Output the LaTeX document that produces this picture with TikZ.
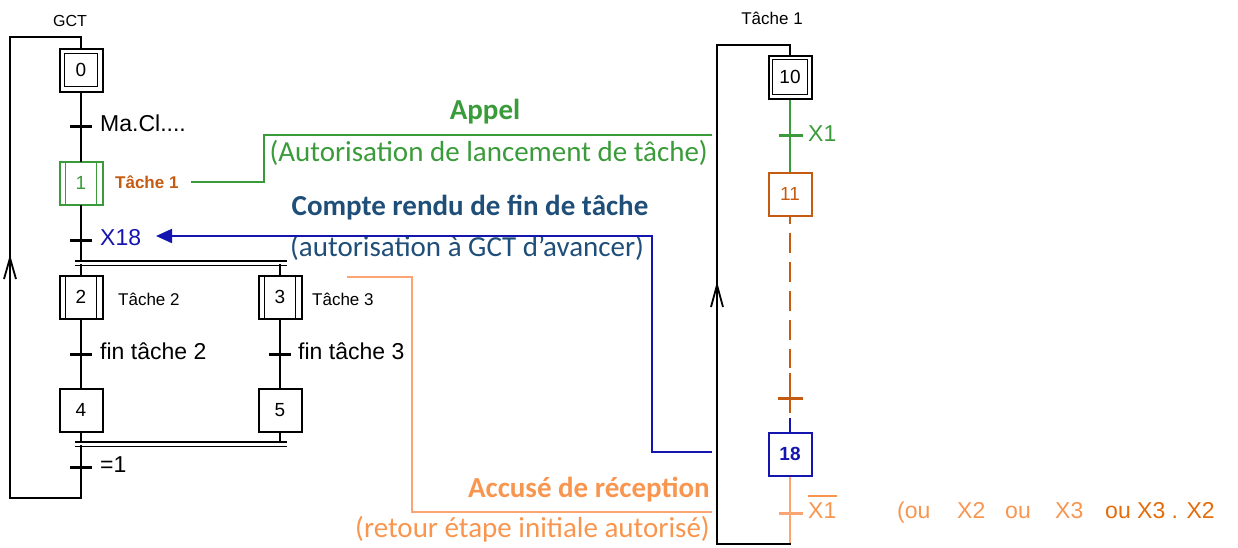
\documentclass[tikz,border=0pt]{standalone}
\usepackage{fontspec}
\setmainfont{Liberation Sans}
\newfontfamily\calfont{Carlito}
\usetikzlibrary{arrows.meta}
\definecolor{gr}{RGB}{58,155,58}
\definecolor{torange}{RGB}{197,90,17}
\definecolor{lorange}{RGB}{248,150,80}
\definecolor{lline}{RGB}{250,165,115}
\definecolor{dorange}{RGB}{228,108,10}
\definecolor{bl}{RGB}{20,20,175}
\definecolor{cr}{RGB}{31,78,121}
\begin{document}
\begin{tikzpicture}[x=1pt,y=-1pt,
  ln/.style={line width=2pt, line cap=rect},
  tick/.style={line width=3pt},
  stepbox/.style={draw, line width=2pt, minimum width=43pt, minimum height=43pt, inner sep=0pt, font=\fontsize{19}{19}\selectfont},
  inner/.style={line width=1.8pt},
  lbl/.style={anchor=base west, inner sep=0pt, font=\fontsize{23}{27}\selectfont},
  small/.style={anchor=base west, inner sep=0pt, font=\fontsize{17}{20}\selectfont},
  ann/.style={inner sep=0pt, font=\calfont\fontsize{29}{34}\selectfont},
  annb/.style={inner sep=0pt, font=\calfont\bfseries\fontsize{29}{34}\selectfont}]
\useasboundingbox (0,0) rectangle (1238,547);

% ===== GCT =====
\node[anchor=base, inner sep=0pt, font=\fontsize{16}{18}\selectfont] (gct) at (70,26) {GCT};
\node[stepbox] (s0) at (81,70) {0};
\draw[inner] ([xshift=6pt,yshift=-6pt]s0.north west) rectangle ([xshift=-6pt,yshift=6pt]s0.south east);
\node[stepbox, draw=gr, text=gr] (s1) at (81,183) {1};
\draw[inner, gr] ([xshift=7pt]s1.north west) -- ([xshift=7pt]s1.south west)
  ([xshift=-7pt]s1.north east) -- ([xshift=-7pt]s1.south east);
\node[stepbox] (s2) at (81,297) {2};
\draw[inner] ([xshift=7pt]s2.north west) -- ([xshift=7pt]s2.south west)
  ([xshift=-7pt]s2.north east) -- ([xshift=-7pt]s2.south east);
\node[stepbox] (s3) at (280,297) {3};
\draw[inner] ([xshift=7pt]s3.north west) -- ([xshift=7pt]s3.south west)
  ([xshift=-7pt]s3.north east) -- ([xshift=-7pt]s3.south east);
\node[stepbox] (s4) at (81,410) {4};
\node[stepbox] (s5) at (280,410) {5};

\coordinate (b1a) at (81,261);
\coordinate (b1b) at (81,265);
\coordinate (b1c) at (280,265);
\coordinate (b2a) at (81,442);
\coordinate (b2c) at (280,442);
\coordinate (b2b) at (81,446);
\coordinate (lb) at (81,498);
\coordinate (lt) at (81,37);

\draw[ln] (s0) -- (s1);
\draw[ln] (s1.south) -- (b1a);
\draw[line width=1.5pt] (75,261) -- (287,261) (75,265.5) -- (287,265.5);
\draw[ln] (b1b) -- (s2.north);
\draw[ln] (b1c) -- (s3.north);
\draw[ln] (s2) -- (s4);
\draw[ln] (s3) -- (s5);
\draw[ln] (s4.south) -- (b2a);
\draw[ln] (s5.south) -- (b2c);
\draw[line width=1.5pt] (75,442) -- (287,442) (75,446.5) -- (287,446.5);
\draw[ln] (b2b) -- (lb) -- (10,498) -- (10,37) -- (lt) -- (s0.north);
\draw[line width=1.8pt] (4,279) -- (10,258) -- (16,279);

% transitions
\draw[tick] (70,126) -- (92,126);
\draw[tick] (70,240) -- (92,240);
\draw[tick] (70,354) -- (92,354);
\draw[tick] (269,354) -- (291,354);
\draw[tick] (70,467) -- (92,467);

\node[lbl] (tma) at (100,131) {Ma.Cl....};
\node[lbl, text=bl] (tx18) at (100,245) {X18};
\node[lbl] (tf2) at (100,359) {fin tâche 2};
\node[lbl] (tf3) at (298,359) {fin tâche 3};
\node[lbl] (teq) at (100,472) {=1};
\node[anchor=base west, inner sep=0pt, text=torange, font=\bfseries\fontsize{17}{20}\selectfont] (lt1) at (115,188) {Tâche 1};
\node[small] (lt2) at (118,305) {Tâche 2};
\node[small] (lt3) at (312,305) {Tâche 3};

% ===== Tâche 1 =====
\node[anchor=base, inner sep=0pt, font=\fontsize{17}{20}\selectfont] (tt1) at (772,24) {Tâche 1};
\node[stepbox] (s10) at (790,77) {10};
\draw[inner] ([xshift=5pt,yshift=-5pt]s10.north west) rectangle ([xshift=-5pt,yshift=5pt]s10.south east);
\node[stepbox, draw=torange, text=torange] (s11) at (790,194) {11};
\node[stepbox, draw=bl, text=bl, font=\bfseries\fontsize{19}{19}\selectfont] (s18) at (790,454) {18};

\coordinate (d1) at (790,368);
\coordinate (d2) at (790,373);
\coordinate (d3) at (790,413);
\coordinate (d4) at (790,418);
\coordinate (rb) at (790,544);
\coordinate (rt) at (790,45);

\draw[line width=2.4pt, gr] (s10.south) -- (s11.north);
\draw[tick, gr] (779,135) -- (803,135);
\node[lbl, text=gr] (tx1) at (808,141) {X1};
\draw[line width=2.6pt, torange, dash pattern=on 20pt off 9pt, dash phase=13pt] (s11.south) -- (d1);
\draw[line width=2.6pt, torange] (d2) -- (d3);
\draw[tick, torange] (778,398) -- (803,398);
\draw[line width=2.6pt, bl] (d4) -- (s18.north);
\draw[line width=2.4pt, lline] (s18.south) -- (rb);
\draw[tick, lline] (779,513) -- (803,513);
\node[lbl, text=lorange] (tnx1) at (808,518) {X1};
\draw[line width=1.8pt, lorange] ([yshift=6pt]tnx1.north west) -- ([yshift=6pt]tnx1.north east);
\draw[ln] (rb) -- (717,544) -- (717,45) -- (rt) -- (s10.north);
\draw[line width=1.8pt] (711,307) -- (717,285) -- (723,307);

\node[lbl, text=lorange] (o1) at (897,518) {(ou};
\node[lbl, text=lorange] (o2) at (957,518) {X2};
\node[lbl, text=lorange] (o3) at (1005,518) {ou};
\node[lbl, text=lorange] (o4) at (1055,518) {X3};
\node[lbl, text=dorange] (o5) at (1105,518) {ou X3 . X2};

% ===== annotations =====
\node[annb, anchor=base, text=gr] (appel) at (485,119) {Appel};
\node[ann, anchor=base east, text=gr] (aut) at (708,161) {(Autorisation de lancement de tâche)};
\node[annb, anchor=base, text=cr] (cr) at (470,215) {Compte rendu de fin de tâche};
\node[ann, anchor=base west, text=cr] (gcta) at (290,256) {(autorisation à GCT d’avancer)};
\node[annb, anchor=base east, text=lorange] (acc) at (710,497) {Accusé de réception};
\node[ann, anchor=base east, text=lorange] (ret) at (710,537) {(retour étape initiale autorisé)};

\coordinate (g0) at (191,182);
\coordinate (g1) at (264,182);
\coordinate (g2) at (264,135);
\coordinate (g3) at (712,135);
\draw[line width=1.8pt, gr] (g0) -- (g1) -- (g2) -- (g3);

\coordinate (bA) at (712,452);
\coordinate (bB) at (652,452);
\coordinate (bC) at (652,236);
\coordinate (bD) at (156,236);
\draw[line width=2pt, bl, -{Triangle[length=16pt,width=14pt]}] (bA) -- (bB) -- (bC) -- (bD);

\coordinate (oA) at (347,277);
\coordinate (oB) at (412,277);
\coordinate (oC) at (412,512);
\coordinate (oD) at (712,512);
\draw[line width=1.8pt, lline] (oA) -- (oB) -- (oC) -- (oD);
\end{tikzpicture}
\end{document}
